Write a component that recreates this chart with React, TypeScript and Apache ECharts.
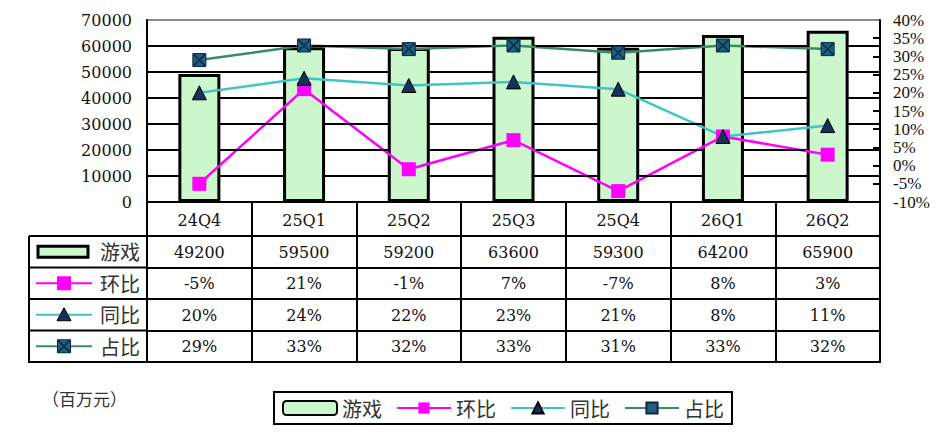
import React, { useEffect, useRef } from "react";
import * as echarts from "echarts";

const categories = ["24Q4", "25Q1", "25Q2", "25Q3", "25Q4", "26Q1", "26Q2"];
const gameRevenue = [49200, 59500, 59200, 63600, 59300, 64200, 65900];
const qoqPct = [-5, 21, -1, 7, -7, 8, 3];
const yoyPct = [20, 24, 22, 23, 21, 8, 11];
const sharePct = [29, 33, 32, 33, 31, 33, 32];
const gridValues = [10000, 20000, 30000, 40000, 50000, 60000, 70000];
const seriesNames = ["游戏", "环比", "同比", "占比"];
const unitLabel = "（百万元）";

const NUM = "'DejaVu Serif', 'Liberation Serif', serif";
const PCT = "'Liberation Serif', 'DejaVu Serif', serif";
const CJK = "'Noto Sans CJK SC', sans-serif";

const BAR_FILL = "#ccf7cc";
const MAGENTA = "#ff00ff";
const CYAN = "#40c4c4";
const GREEN = "#3a8a6a";
const NAVY = "#15325a";
const TEAL = "#1e5f80";
const XMARK = "#0b2540";

const GRID_L = 147;
const GRID_R = 880;
const GRID_T = 20;
const GRID_B = 202;
const TABLE_L = 29;
const ROW_TOPS = [236, 267.5, 299, 330.5];
const TABLE_B = 362;
const BAR_W = 42;

const pctText = (v: number) => `${v}%`;

export default function App() {
  const ref = useRef<HTMLDivElement>(null);
  useEffect(() => {
    if (!ref.current) return;
    const chart = echarts.init(ref.current, null, { renderer: "svg" });

    const rowLabels = [
      gameRevenue.map(String),
      qoqPct.map(pctText),
      yoyPct.map(pctText),
      sharePct.map(pctText),
    ];

    const xAxes: any[] = [
      {
        type: "category",
        data: categories,
        gridIndex: 0,
        position: "bottom",
        boundaryGap: true,
        axisLine: { show: true, onZero: false, lineStyle: { color: "#000", width: 2 } },
        axisTick: { show: true, interval: 0, length: 34, lineStyle: { color: "#000", width: 2 } },
        axisLabel: { interval: 0, margin: 10, fontSize: 16, fontFamily: NUM, color: "#111" },
        splitLine: { show: false },
        splitArea: { show: false },
      },
    ];
    rowLabels.forEach((labels, r) => {
      const h = (r < 3 ? ROW_TOPS[r + 1] : TABLE_B) - ROW_TOPS[r];
      xAxes.push({
        type: "category",
        data: categories,
        gridIndex: 0,
        position: "bottom",
        offset: ROW_TOPS[r] - GRID_B,
        boundaryGap: true,
        axisLine: { show: true, onZero: false, lineStyle: { color: "#000", width: 2 } },
        axisTick: { show: true, interval: 0, length: h, lineStyle: { color: "#000", width: 2 } },
        splitLine: { show: false },
        splitArea: { show: false },
        axisLabel: {
          interval: 0,
          margin: 8,
          fontSize: 16,
          fontFamily: NUM,
          color: "#111",
          formatter: (_v: string, i: number) => labels[i],
        },
      });
    });

    const rowMid = (r: number) => ((r < 3 ? ROW_TOPS[r + 1] : TABLE_B) + ROW_TOPS[r]) / 2;
    const graphic: any[] = [];
    ROW_TOPS.forEach((y) => {
      graphic.push({ type: "line", shape: { x1: TABLE_L, y1: y, x2: GRID_L, y2: y }, style: { stroke: "#000", lineWidth: 2 } });
    });
    graphic.push({ type: "line", shape: { x1: TABLE_L - 1, y1: TABLE_B, x2: GRID_R + 1, y2: TABLE_B }, style: { stroke: "#000", lineWidth: 2 } });
    graphic.push({ type: "line", shape: { x1: TABLE_L, y1: ROW_TOPS[0], x2: TABLE_L, y2: TABLE_B }, style: { stroke: "#000", lineWidth: 2 } });
    const symCx = 64;
    graphic.push({ type: "rect", shape: { x: 38, y: rowMid(0) - 5.5, width: 50, height: 11 }, style: { fill: BAR_FILL, stroke: "#000", lineWidth: 3 } });
    graphic.push({ type: "line", shape: { x1: 36, y1: rowMid(1), x2: 92, y2: rowMid(1) }, style: { stroke: MAGENTA, lineWidth: 2 } });
    graphic.push({ type: "rect", shape: { x: symCx - 7, y: rowMid(1) - 7, width: 14, height: 14 }, style: { fill: MAGENTA } });
    graphic.push({ type: "line", shape: { x1: 36, y1: rowMid(2), x2: 92, y2: rowMid(2) }, style: { stroke: CYAN, lineWidth: 2 } });
    graphic.push({
      type: "polygon",
      shape: { points: [[symCx, rowMid(2) - 7], [symCx + 7, rowMid(2) + 6], [symCx - 7, rowMid(2) + 6]] },
      style: { fill: NAVY, stroke: "#000", lineWidth: 1 },
    });
    graphic.push({ type: "line", shape: { x1: 36, y1: rowMid(3), x2: 92, y2: rowMid(3) }, style: { stroke: GREEN, lineWidth: 2 } });
    graphic.push({ type: "rect", shape: { x: symCx - 6.5, y: rowMid(3) - 6.5, width: 13, height: 13 }, style: { fill: TEAL, stroke: XMARK, lineWidth: 1 } });
    graphic.push({ type: "line", shape: { x1: symCx - 6, y1: rowMid(3) - 6, x2: symCx + 6, y2: rowMid(3) + 6 }, style: { stroke: XMARK, lineWidth: 1.5 } });
    graphic.push({ type: "line", shape: { x1: symCx + 6, y1: rowMid(3) - 6, x2: symCx - 6, y2: rowMid(3) + 6 }, style: { stroke: XMARK, lineWidth: 1.5 } });
    seriesNames.forEach((n, r) => {
      graphic.push({
        type: "text",
        x: 100,
        y: rowMid(r),
        style: { text: n, fontSize: 20, fontFamily: CJK, fill: "#333", verticalAlign: "middle", align: "left" },
      });
    });
    graphic.push({
      type: "text",
      x: 42,
      y: 398,
      style: { text: unitLabel, fontSize: 17, fontFamily: CJK, fill: "#333", verticalAlign: "middle", align: "left" },
    });

    chart.setOption({
      animation: false,
      backgroundColor: "#fff",
      grid: { show: false, left: GRID_L, top: GRID_T, width: GRID_R - GRID_L, height: GRID_B - GRID_T, containLabel: false },
      legend: {
        data: seriesNames,
        left: 274,
        top: 392,
        orient: "horizontal",
        backgroundColor: "#fff",
        borderColor: "#000",
        borderWidth: 2,
        borderRadius: 0,
        padding: [6, 8],
        itemWidth: 54,
        itemHeight: 14,
        itemGap: 14,
        textStyle: { fontSize: 20, fontFamily: CJK, color: "#333" },
      },
      xAxis: xAxes,
      yAxis: [
        {
          type: "value",
          min: 0,
          max: 70000,
          interval: 10000,
          position: "left",
          axisLine: { show: true, onZero: false, lineStyle: { color: "#000", width: 2 } },
          axisTick: { show: false },
          axisLabel: { margin: 15, fontSize: 16, fontFamily: NUM, color: "#111", formatter: (v: number) => String(v) },
          splitLine: { show: true, lineStyle: { color: "#000", width: 2, type: "solid" } },
          splitArea: { show: false },
        },
        {
          type: "value",
          min: -10,
          max: 40,
          interval: 5,
          position: "right",
          axisLine: { show: true, onZero: false, lineStyle: { color: "#000", width: 2 } },
          axisTick: { show: true, inside: true, length: 7, lineStyle: { color: "#000", width: 2 } },
          axisLabel: { margin: 13, fontSize: 17, fontFamily: PCT, color: "#111", formatter: (v: number) => `${v}%` },
          splitLine: { show: false },
          splitArea: { show: false },
        },
      ],
      series: [
        {
          name: "游戏",
          type: "bar",
          xAxisIndex: 0,
          yAxisIndex: 0,
          data: gameRevenue,
          barWidth: BAR_W,
          itemStyle: { color: BAR_FILL, borderColor: "#000", borderWidth: 3 },
        },
        {
          name: "环比",
          type: "line",
          xAxisIndex: 0,
          yAxisIndex: 1,
          data: qoqPct,
          symbol: "rect",
          symbolSize: 14,
          lineStyle: { color: MAGENTA, width: 2.5 },
          itemStyle: { color: MAGENTA },
        },
        {
          name: "同比",
          type: "line",
          xAxisIndex: 0,
          yAxisIndex: 1,
          data: yoyPct,
          symbol: "triangle",
          symbolSize: 14,
          lineStyle: { color: CYAN, width: 2.5 },
          itemStyle: { color: NAVY, borderColor: "#000", borderWidth: 1 },
        },
        {
          name: "占比",
          type: "line",
          xAxisIndex: 0,
          yAxisIndex: 1,
          data: sharePct,
          symbol: "rect",
          symbolSize: 13,
          lineStyle: { color: GREEN, width: 2.5 },
          itemStyle: { color: TEAL, borderColor: XMARK, borderWidth: 1 },
        },
        {
          name: "占比X",
          type: "scatter",
          xAxisIndex: 0,
          yAxisIndex: 1,
          data: sharePct,
          symbol: "path://M0,0L2,0L10,8L18,0L20,0L20,2L12,10L20,18L20,20L18,20L10,12L2,20L0,20L0,18L8,10L0,2Z",
          symbolSize: 12,
          itemStyle: { color: XMARK },
          silent: true,
          z: 5,
        },
      ],
      graphic,
    });

    // Horizontal gridlines placed through the axis scales and added straight to the
    // renderer on top; segments are cut where a bar or a marker sits in front.
    const zr = chart.getZr();
    const xs = categories.map((c) => chart.convertToPixel({ xAxisIndex: 0 }, c) as number);
    const markerSets = [qoqPct, yoyPct, sharePct];
    gridValues.forEach((v, k) => {
      const y = chart.convertToPixel({ yAxisIndex: 0 }, v) as number;
      const cuts: [number, number][] = [];
      gameRevenue.forEach((g, i) => {
        if (g >= v) cuts.push([xs[i] - BAR_W / 2 - 1.5, xs[i] + BAR_W / 2 + 1.5]);
      });
      markerSets.forEach((vals) => {
        vals.forEach((val, i) => {
          const py = chart.convertToPixel({ yAxisIndex: 1 }, val) as number;
          if (Math.abs(py - y) < 8.5) cuts.push([xs[i] - 7.5, xs[i] + 7.5]);
        });
      });
      cuts.sort((a, b) => a[0] - b[0]);
      let start = GRID_L + 1;
      const segs: [number, number][] = [];
      cuts.forEach(([a, b]) => {
        if (a > start) segs.push([start, a]);
        start = Math.max(start, b);
      });
      if (start < GRID_R - 1) segs.push([start, GRID_R - 1]);
      const stroke = k === gridValues.length - 1 ? "#8a8a8a" : "#000";
      segs.forEach(([a, b]) => {
        zr.add(
          new (echarts.graphic as any).Line({
            shape: { x1: a, y1: y, x2: b, y2: y },
            style: { stroke, lineWidth: 2 },
            z: 200,
            silent: true,
          })
        );
      });
    });

    return () => chart.dispose();
  }, []);
  return <div ref={ref} style={{ position: "fixed", left: 0, top: 0, width: 946, height: 438 }} />;
}
